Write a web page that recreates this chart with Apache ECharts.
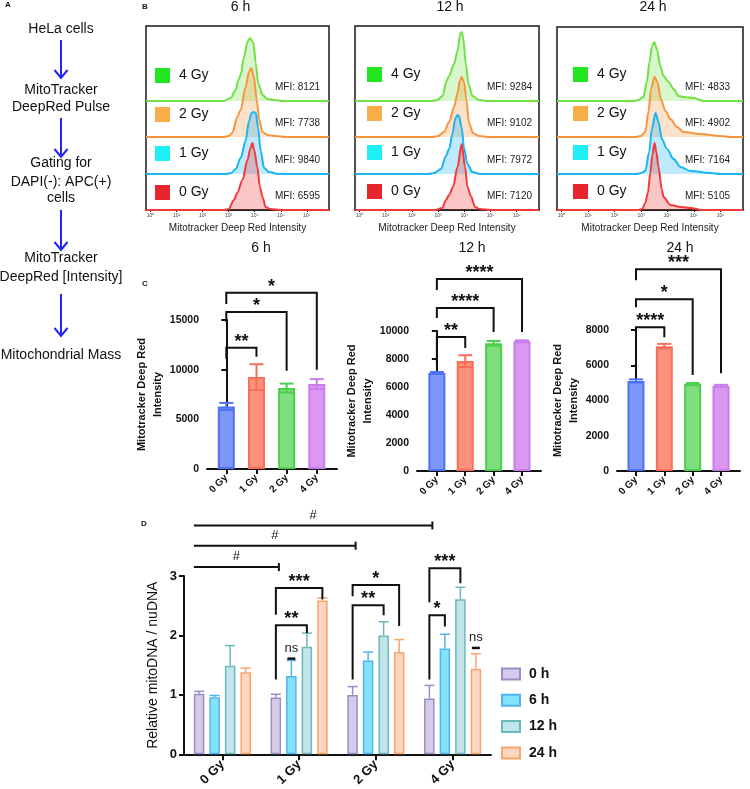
<!DOCTYPE html>
<html><head><meta charset="utf-8">
<script src="https://cdn.jsdelivr.net/npm/echarts@6/dist/echarts.min.js"></script>
<style>html,body{margin:0;padding:0;background:#fff}#c{width:750px;height:789px}</style>
</head><body><div id="c"></div>
<script>
// ================= DATA =================
const doseLabels = ['0 Gy', '1 Gy', '2 Gy', '4 Gy'];
const histDoses = ['4 Gy', '2 Gy', '1 Gy', '0 Gy'];
const timePoints = ['6 h', '12 h', '24 h'];
const histTickExp = [0, 1, 2, 3, 4, 5, 6];
const histTickLabels = ['10⁰', '10¹', '10²', '10³', '10⁴', '10⁵', '10⁶'];
const mfi6h = [8121, 7738, 9840, 6595];
const mfi12h = [9284, 9102, 7972, 7120];
const mfi24h = [4833, 4902, 7164, 5105];

// histogram curves: [log10 intensity, relative count]
const hist6h4Gy = [[-0.17,0],[2.8,0],[3.08,3],[3.27,11],[3.37,21],[3.46,26],[3.59,44],[3.72,59],[3.82,63],[3.95,58],[4.04,38],[4.13,18],[4.3,6],[4.49,2],[4.73,1],[5.1,0],[6.85,0]];
const hist6h2Gy = [[-0.17,0],[2.8,0],[3.0,1],[3.14,4],[3.33,20],[3.46,27],[3.65,50],[3.78,65],[3.87,69],[3.97,60],[4.08,37],[4.17,17],[4.3,5],[4.49,2],[4.8,1],[5.2,0],[6.85,0]];
const hist6h1Gy = [[-0.17,0],[2.9,0],[3.1,1],[3.27,5],[3.46,16],[3.65,33],[3.78,53],[3.88,61],[3.96,62],[4.04,61],[4.13,46],[4.23,23],[4.36,6],[4.55,2],[4.9,0],[6.85,0]];
const hist6h0Gy = [[-0.17,0],[2.85,0],[3.0,1],[3.2,10],[3.33,17],[3.53,30],[3.72,50],[3.84,62],[3.91,67],[3.98,60],[4.1,43],[4.2,23],[4.3,13],[4.42,3],[4.6,1],[5.0,0],[6.85,0]];
const hist12h4Gy = [[-0.17,0],[2.75,0],[2.97,1],[3.17,5],[3.32,20],[3.42,25],[3.61,37],[3.74,50],[3.84,67],[3.9,69],[3.96,63],[4.06,37],[4.16,17],[4.31,5],[4.56,1],[4.9,0],[6.85,0]];
const hist12h2Gy = [[-0.17,0],[2.8,0],[3.0,1],[3.23,5],[3.42,15],[3.61,30],[3.74,44],[3.84,57],[3.9,60],[3.99,55],[4.08,37],[4.18,14],[4.33,4],[4.56,1],[4.9,0],[6.85,0]];
const hist12h1Gy = [[-0.17,0],[2.65,0],[2.85,1],[3.11,5],[3.3,18],[3.42,25],[3.55,40],[3.65,55],[3.74,59],[3.8,58],[3.9,46],[3.99,26],[4.12,10],[4.31,2],[4.6,0],[6.85,0]];
const hist12h0Gy = [[-0.17,0],[2.9,0],[3.16,2],[3.3,10],[3.42,15],[3.57,23],[3.74,43],[3.9,66],[4.03,43],[4.12,23],[4.25,14],[4.41,3],[4.6,1],[5.0,0],[6.85,0]];
const hist24h4Gy = [[-0.17,0],[2.7,0],[2.9,1],[3.09,4],[3.22,19],[3.32,39],[3.41,54],[3.5,59],[3.6,52],[3.73,35],[3.85,25],[4.04,19],[4.23,12],[4.42,5],[4.61,4],[4.99,3],[5.37,0],[6.85,0]];
const hist24h2Gy = [[-0.17,0],[2.8,0],[3.0,1],[3.16,5],[3.28,25],[3.38,48],[3.51,60],[3.62,55],[3.75,38],[3.92,26],[4.11,18],[4.36,10],[4.61,5],[5.25,3],[6.0,1],[6.4,0],[6.85,0]];
const hist24h1Gy = [[-0.17,0],[2.85,0],[3.0,1],[3.16,3],[3.31,22],[3.41,45],[3.55,61],[3.66,52],[3.79,35],[3.98,25],[4.23,15],[4.49,7],[4.87,3],[5.63,1],[6.0,0],[6.85,0]];
const hist24h0Gy = [[-0.17,0],[2.9,0],[3.05,1],[3.16,7],[3.26,17],[3.35,37],[3.43,55],[3.51,67],[3.58,58],[3.66,43],[3.79,20],[3.85,13],[4.11,5],[4.5,3],[4.87,2],[5.3,0],[6.85,0]];

// Panel C: mean and SD of Mitotracker Deep Red intensity
const c6hMean = [6300, 9250, 8150, 8550];
const c6hSD = [350, 1300, 450, 500];
const c12hMean = [7000, 7850, 9120, 9270];
const c12hSD = [70, 420, 170, 60];
const c24hMean = [5110, 7080, 4930, 4830];
const c24hSD = [90, 130, 60, 60];
// significance brackets: [fromDose, toDose, height, leftLegEnd, rightLegEnd]
const c6hBrackets = [[0,1,12200,11100,11300],[0,2,15800,14800,9900],[0,3,17750,16600,10000]];
const c6hStars = ['**', '*', '*'];
const c12hBrackets = [[0,1,9570,7570,8780],[0,2,11640,10930,9930],[0,3,13710,12930,9930]];
const c12hStars = ['**', '****', '****'];
const c24hBrackets = [[0,1,8160,7590,7590],[0,2,9745,9290,5440],[0,3,11440,10820,5550]];
const c24hStars = ['****', '*', '***'];

// Panel D: relative mitoDNA / nuDNA per dose (0,1,2,4 Gy)
const dTimes = ['0 h', '6 h', '12 h', '24 h'];
const d0h = [1.02, 0.955, 1.0, 0.94];
const d0hSD = [0.04, 0.055, 0.14, 0.22];
const d6h = [0.96, 1.32, 1.58, 1.78];
const d6hSD = [0.03, 0.26, 0.14, 0.24];
const d12h = [1.49, 1.81, 2.0, 2.61];
const d12hSD = [0.34, 0.23, 0.23, 0.20];
const d24h = [1.38, 2.59, 1.72, 1.44];
const d24hSD = [0.07, 0.04, 0.21, 0.25];
// [dose group, bar A, bar B, height, leftLegEnd, rightLegEnd]
const dBrackets = [[1,0,2,2.17,1.26,2.04],[1,0,3,2.80,2.35,2.61],[2,0,2,2.51,1.26,2.34],[2,0,3,2.85,2.66,2.16],[3,0,1,2.34,1.26,2.15],[3,0,2,3.13,2.56,2.88]];
const dBracketStars = ['**', '***', '**', '*', '*', '***'];
const dHashLines = [[1,3.15],[2,3.51],[3,3.85]]; // [target dose group, height]
const dNsMarks = [[1,1,1.61],[3,3,1.79]]; // [dose group, bar, height]

// ================= STYLE / LAYOUT =================
const FF = "'Liberation Sans', Arial, Helvetica, sans-serif";
const HMIN = -0.17, HMAX = 6.85;
const boxGeo = [{left:146,width:183,top:26,height:184},{left:355,width:184,top:26,height:184},{left:557,width:186,top:27,height:183}];
const laneBase = [101, 137, 174, 210];
const laneLine = ['#6fe046', '#f7953e', '#1ab4f2', '#f23a3a'];
const laneFill = ['rgba(110,220,60,0.38)', 'rgba(246,150,60,0.40)', 'rgba(30,185,245,0.42)', 'rgba(242,60,60,0.42)'];
const legendSq = ['#22e622', '#f8ae48', '#1ef0f5', '#e8242c'];
const legendPos = [[155,68],[367,67],[573,67]];
const mfiRight = [320, 532, 730];
const histAll = [[hist6h4Gy,hist6h2Gy,hist6h1Gy,hist6h0Gy],[hist12h4Gy,hist12h2Gy,hist12h1Gy,hist12h0Gy],[hist24h4Gy,hist24h2Gy,hist24h1Gy,hist24h0Gy]];
const mfiAll = [mfi6h, mfi12h, mfi24h];

const cFill = ['#7d98f8', '#fd917c', '#7fdf7f', '#dc98f0'];
const cBorder = ['#4d72f4', '#fb6f5a', '#4ccf4c', '#c97ded'];
const cGeo = [
  {left:207,width:130,top:320,height:149,max:15000,interval:5000,xmin:-0.64,xmax:3.67,nameGap:34},
  {left:417,width:124,top:331,height:140,max:10000,interval:2000,xmin:-0.70,xmax:3.67,nameGap:33},
  {left:617,width:123,top:330,height:141,max:8000,interval:2000,xmin:-0.67,xmax:3.67,nameGap:34}];
const cAll = [
  {mean:c6hMean, sd:c6hSD, br:c6hBrackets, st:c6hStars},
  {mean:c12hMean, sd:c12hSD, br:c12hBrackets, st:c12hStars},
  {mean:c24hMean, sd:c24hSD, br:c24hBrackets, st:c24hStars}];
const cTitleX = [261, 472, 680];

const dFill = ['#d6caeb', '#84e3fc', '#c2e5e9', '#fdd6c2'];
const dBorder = ['#9b8dc2', '#52b2f2', '#6db7bd', '#f8a56d'];
const dMeans = [d0h, d6h, d12h, d24h];
const dSDs = [d0hSD, d6hSD, d12hSD, d24hSD];
const D_BW = 10.5, D_STEP = 15.5;

const grids = [], xAxes = [], yAxes = [], series = [], legends = [], graphics = [];

function txt(x, y, text, font, align, vAlign, fill) {
  align = align || 'center'; vAlign = vAlign || 'middle';
  return {type:'text', x:x, y:y, silent:true, z:50,
    style:{text:text, font:font, fill:fill || '#111', align:align, verticalAlign:vAlign, textAlign:align, textVerticalAlign:vAlign}};
}

// ---------- Panel A ----------
graphics.push(txt(5, 5, 'A', "bold 8px " + FF, 'left', 'middle'));
[['HeLa cells',29],['MitoTracker',90],['DeepRed Pulse',107],['Gating for',163],['DAPI(-): APC(+)',182],['cells',198],['MitoTracker',258],['DeepRed [Intensity]',277],['Mitochondrial Mass',355]]
  .forEach(function(t){ graphics.push(txt(61, t[1], t[0], "14px " + FF)); });
[[40,78],[118,157],[210,250],[294,336]].forEach(function(a){
  graphics.push({type:'line', silent:true, shape:{x1:61,y1:a[0],x2:61,y2:a[1]}, style:{stroke:'#2323ff', lineWidth:2}});
  graphics.push({type:'polyline', silent:true, shape:{points:[[54.5,a[1]-8],[61,a[1]],[67.5,a[1]-8]]}, style:{stroke:'#2323ff', lineWidth:2, fill:'none'}});
});

// ---------- Panel B ----------
graphics.push(txt(145, 7, 'B', "bold 8px " + FF, 'center', 'middle'));
boxGeo.forEach(function(g, b){
  const gi = grids.length;
  grids.push({left:g.left, top:g.top, width:g.width, height:g.height, show:true, borderColor:'#1a1a1a', borderWidth:1.5, backgroundColor:'rgba(0,0,0,0)'});
  xAxes.push({gridIndex:gi, type:'value', min:HMIN, max:HMAX,
    axisLine:{show:true, lineStyle:{color:'#111', width:1.5}},
    axisTick:{show:true, customValues:histTickExp, length:2, lineStyle:{color:'#111', width:1}},
    axisLabel:{show:true, customValues:histTickExp, formatter:function(v){ return histTickLabels[histTickExp.indexOf(v)]; }, fontSize:5, color:'#444', margin:3},
    splitLine:{show:false},
    name:'Mitotracker Deep Red Intensity', nameLocation:'middle', nameGap:13,
    nameTextStyle:{fontSize:10, color:'#222'}});
  yAxes.push({gridIndex:gi, type:'value', show:false, min:0, max:1});
  histDoses.forEach(function(d, i){
    const li = grids.length;
    grids.push({left:g.left, top:laneBase[i]-80, width:g.width, height:80});
    xAxes.push({gridIndex:li, type:'value', min:HMIN, max:HMAX, show:false});
    yAxes.push({gridIndex:li, type:'value', min:0, max:80, show:false});
    series.push({type:'line', name:d, xAxisIndex:li, yAxisIndex:li, data:histAll[b][i],
      smooth:0.3, smoothMonotone:'x', showSymbol:false, symbol:'none', silent:true,
      lineStyle:{color:laneLine[i], width:2}, itemStyle:{color:laneLine[i]},
      areaStyle:{color:laneFill[i], origin:'start'}, z:3+i});
    graphics.push(txt(mfiRight[b], laneBase[i]-14, 'MFI: ' + mfiAll[b][i], "10px " + FF, 'right', 'middle', '#222'));
  });
  graphics.push(txt(g.left + g.width/2 + 3, 7, timePoints[b], "14px " + FF));
  legends.push({orient:'vertical', left:legendPos[b][0], top:legendPos[b][1], padding:0, itemWidth:15, itemHeight:15, itemGap:24,
    icon:'rect', selectedMode:false,
    data:histDoses.map(function(n, i){ return {name:n, icon:'rect', itemStyle:{color:legendSq[i], borderWidth:0}}; }),
    textStyle:{fontSize:14, color:'#111', lineHeight:15, padding:[0,0,0,4], fontFamily:FF}});
});

// ---------- Panel C ----------
graphics.push(txt(145, 284, 'C', "bold 8px " + FF));
cGeo.forEach(function(g, k){
  const gi = grids.length;
  const cd = cAll[k];
  grids.push({left:g.left, top:g.top, width:g.width, height:g.height});
  xAxes.push({gridIndex:gi, type:'value', min:g.xmin, max:g.xmax,
    axisLine:{show:true, onZero:false, lineStyle:{color:'#111', width:2}},
    axisTick:{show:true, customValues:[0,1,2,3], length:5, lineStyle:{color:'#111', width:2}},
    axisLabel:{customValues:[0,1,2,3], formatter:function(v){ return doseLabels[v]; }, rotate:45, fontSize:10, fontWeight:'bold', color:'#111', margin:7},
    splitLine:{show:false}});
  yAxes.push({gridIndex:gi, type:'value', min:0, max:g.max, interval:g.interval,
    axisLine:{show:true, lineStyle:{color:'#111', width:2}},
    axisTick:{show:true, length:5, lineStyle:{color:'#111', width:2}},
    axisLabel:{formatter:function(v){ return String(v); }, fontSize:10.5, fontWeight:'bold', color:'#111', margin:8},
    splitLine:{show:false},
    name:'Mitotracker Deep Red\nIntensity', nameLocation:'middle', nameGap:g.nameGap,
    nameTextStyle:{fontSize:11, fontWeight:'bold', color:'#111', lineHeight:16}});
  series.push({type:'bar', xAxisIndex:gi, yAxisIndex:gi, barWidth:17, silent:true,
    data:cd.mean.map(function(m, i){ return {value:[i, m], itemStyle:{color:cFill[i], borderColor:cBorder[i], borderWidth:2}}; }), z:2});
  series.push({type:'custom', xAxisIndex:gi, yAxisIndex:gi, silent:true, clip:false, z:3,
    encode:{x:0, y:[1,2]},
    data:cd.mean.map(function(m, i){ return [i, m - cd.sd[i], m + cd.sd[i]]; }),
    renderItem:function(params, api){
      const i = api.value(0);
      const hi = api.coord([i, api.value(2)]), lo = api.coord([i, api.value(1)]);
      const c = cBorder[params.dataIndex], w = 7;
      return {type:'group', children:[
        {type:'line', shape:{x1:hi[0], y1:hi[1], x2:lo[0], y2:lo[1]}, style:{stroke:c, lineWidth:2}},
        {type:'line', shape:{x1:hi[0]-w, y1:hi[1], x2:hi[0]+w, y2:hi[1]}, style:{stroke:c, lineWidth:2}},
        {type:'line', shape:{x1:lo[0]-w, y1:lo[1], x2:lo[0]+w, y2:lo[1]}, style:{stroke:c, lineWidth:2}}]};
    }});
  series.push({type:'custom', xAxisIndex:gi, yAxisIndex:gi, silent:true, clip:false, z:4,
    encode:{x:[0,1], y:[2,3,4]},
    data:cd.br,
    renderItem:function(params, api){
      const a = api.value(0), b = api.value(1), y = api.value(2);
      const pA = api.coord([a, y]), pB = api.coord([b, y]);
      const yl = api.coord([a, api.value(3)])[1], yr = api.coord([b, api.value(4)])[1];
      return {type:'group', children:[
        {type:'polyline', shape:{points:[[pA[0], yl],[pA[0], pA[1]],[pB[0], pB[1]],[pB[0], yr]]}, style:{stroke:'#111', lineWidth:2, fill:'none'}},
        {type:'text', style:{text:cd.st[params.dataIndex], x:(pA[0]+pB[0])/2, y:pA[1]+3, align:'center', verticalAlign:'bottom', font:"bold 18px " + FF, fill:'#111'}}]};
    }});
  graphics.push(txt(cTitleX[k], 248, timePoints[k], "14px " + FF));
});

// ---------- Panel D ----------
graphics.push(txt(144, 524, 'D', "bold 8px " + FF));
const dg = grids.length;
grids.push({left:184, top:576, width:307, height:179});
xAxes.push({gridIndex:dg, type:'category', data:doseLabels,
  axisLine:{show:true, lineStyle:{color:'#111', width:2}},
  axisTick:{show:true, alignWithLabel:true, length:6, lineStyle:{color:'#111', width:2}},
  axisLabel:{rotate:45, fontSize:13, fontWeight:'bold', color:'#111', margin:8}});
yAxes.push({gridIndex:dg, type:'value', min:0, max:3, interval:1,
  axisLine:{show:true, lineStyle:{color:'#111', width:2}},
  axisTick:{show:true, length:5, lineStyle:{color:'#111', width:2}},
  axisLabel:{fontSize:13, fontWeight:'bold', color:'#111', margin:7},
  splitLine:{show:false},
  name:'Relative mitoDNA / nuDNA', nameLocation:'middle', nameGap:24,
  nameTextStyle:{fontSize:14, color:'#111'}});
dTimes.forEach(function(t, k){
  series.push({type:'bar', name:t, xAxisIndex:dg, yAxisIndex:dg, barWidth:D_BW, barGap:'48%', silent:true,
    data:dMeans[k], itemStyle:{color:dFill[k], borderColor:dBorder[k], borderWidth:1.5}, z:2});
});
function dX(api, g, b){ return api.coord([g, 0])[0] + (b - 1.5) * D_STEP; }
const dErrData = [];
dTimes.forEach(function(t, k){ dMeans[k].forEach(function(m, g){ dErrData.push([g, k, m, m + dSDs[k][g]]); }); });
series.push({type:'custom', xAxisIndex:dg, yAxisIndex:dg, silent:true, clip:false, z:3,
  encode:{x:0, y:[2,3]}, data:dErrData,
  renderItem:function(params, api){
    const g = api.value(0), k = api.value(1);
    const x = dX(api, g, k);
    const y0 = api.coord([g, api.value(2)])[1], y1 = api.coord([g, api.value(3)])[1];
    const c = dBorder[k], w = 5;
    return {type:'group', children:[
      {type:'line', shape:{x1:x, y1:y0, x2:x, y2:y1}, style:{stroke:c, lineWidth:1.5}},
      {type:'line', shape:{x1:x-w, y1:y1, x2:x+w, y2:y1}, style:{stroke:c, lineWidth:1.5}}]};
  }});
series.push({type:'custom', xAxisIndex:dg, yAxisIndex:dg, silent:true, clip:false, z:4,
  encode:{x:0, y:[3,4,5]}, data:dBrackets,
  renderItem:function(params, api){
    const g = api.value(0);
    const xa = dX(api, g, api.value(1)), xb = dX(api, g, api.value(2));
    const y = api.coord([g, api.value(3)])[1];
    const yl = api.coord([g, api.value(4)])[1], yr = api.coord([g, api.value(5)])[1];
    return {type:'group', children:[
      {type:'polyline', shape:{points:[[xa, yl],[xa, y],[xb, y],[xb, yr]]}, style:{stroke:'#111', lineWidth:2, fill:'none'}},
      {type:'text', style:{text:dBracketStars[params.dataIndex], x:(xa+xb)/2, y:y+3, align:'center', verticalAlign:'bottom', font:"bold 18px " + FF, fill:'#111'}}]};
  }});
series.push({type:'custom', xAxisIndex:dg, yAxisIndex:dg, silent:true, clip:false, z:4,
  encode:{x:0, y:1}, data:dHashLines,
  renderItem:function(params, api){
    const g = api.value(0);
    const x0 = dX(api, 0, 0) - D_BW/2, x1 = dX(api, g, 0) + 3;
    const y = api.coord([g, api.value(1)])[1];
    return {type:'group', children:[
      {type:'line', shape:{x1:x0, y1:y, x2:x1, y2:y}, style:{stroke:'#111', lineWidth:2}},
      {type:'line', shape:{x1:x1, y1:y-4, x2:x1, y2:y+4}, style:{stroke:'#111', lineWidth:2}},
      {type:'text', style:{text:'#', x:(x0+x1)/2, y:y-4, align:'center', verticalAlign:'bottom', font:"13px " + FF, fill:'#111'}}]};
  }});
series.push({type:'custom', xAxisIndex:dg, yAxisIndex:dg, silent:true, clip:false, z:5,
  encode:{x:0, y:2}, data:dNsMarks,
  renderItem:function(params, api){
    const g = api.value(0), b = api.value(1);
    const x = dX(api, g, b);
    const y = api.coord([g, api.value(2)])[1];
    return {type:'group', children:[
      {type:'line', shape:{x1:x-4, y1:y, x2:x+4, y2:y}, style:{stroke:'#111', lineWidth:2.5}},
      {type:'text', style:{text:'ns', x:x, y:y-4, align:'center', verticalAlign:'bottom', font:"13px " + FF, fill:'#222'}}]};
  }});
legends.push({orient:'vertical', left:501, top:667, padding:0, itemWidth:18, itemHeight:11, itemGap:12.3, selectedMode:false,
  icon:'rect', data:dTimes,
  textStyle:{fontSize:14, fontWeight:'bold', color:'#111', lineHeight:11, padding:[0,0,0,4], fontFamily:FF}});

const chart = echarts.init(document.getElementById('c'), null, {renderer:'canvas'});
chart.setOption({
  animation:false,
  backgroundColor:'#ffffff',
  textStyle:{fontFamily:FF},
  grid:grids, xAxis:xAxes, yAxis:yAxes, series:series, legend:legends,
  graphic:{elements:graphics}
});
</script>
</body></html>
